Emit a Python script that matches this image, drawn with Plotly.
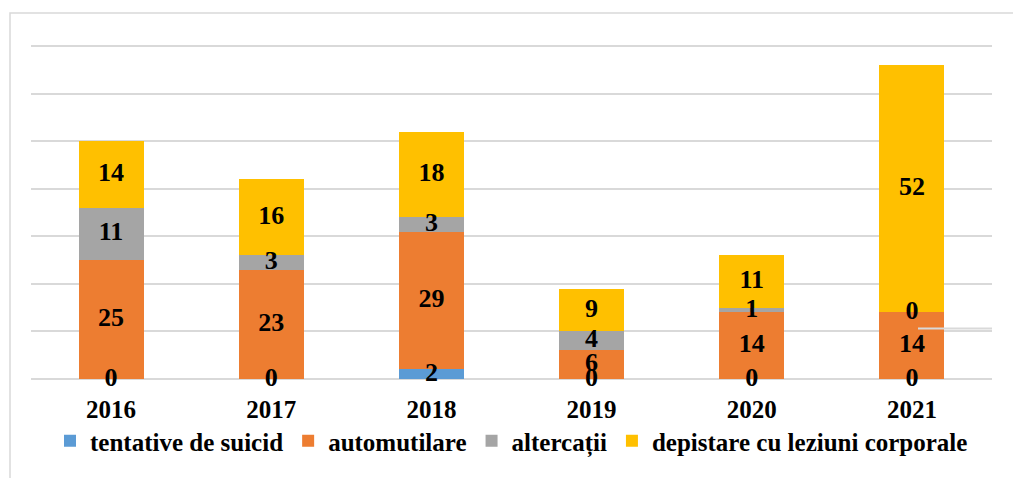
import plotly.graph_objects as go

years = ["2016", "2017", "2018", "2019", "2020", "2021"]
series_names = ["tentative de suicid", "automutilare", "altercații", "depistare cu leziuni corporale"]
tentative = [0, 0, 2, 0, 0, 0]
automutilare = [25, 23, 29, 6, 14, 14]
altercatii = [11, 3, 3, 4, 1, 0]
depistare = [14, 16, 18, 9, 11, 52]
colors = ["#5B9BD5", "#ED7D31", "#A5A5A5", "#FFC000"]

series = [tentative, automutilare, altercatii, depistare]

W, H = 1013, 478
BASE_Y, TOP_Y = 379, 46          # pixel rows of value 0 and value 70
YMAX_GRID = 70
ML, MR, MT, MB = 31, 21, 41, H - BASE_Y
PW, PH = W - ML - MR, H - MT - MB
Y_TOP = PH / ((BASE_Y - TOP_Y) / YMAX_GRID)

def px(x):
    return (x - ML) / PW

def py(y):
    return (H - MB - y) / PH

FONT = "Liberation Serif"

fig = go.Figure()
for name, vals, col in zip(series_names, series, colors):
    fig.add_trace(go.Bar(x=years, y=vals, name=name, marker=dict(color=col, line=dict(width=0)),
                         hoverinfo="x+y+name"))

# data labels, centred in each stacked segment
base = [0] * len(years)
for vals in series:
    mids = [b + v / 2 for b, v in zip(base, vals)]
    fig.add_trace(go.Scatter(x=years, y=mids, mode="text", text=[str(v) for v in vals],
                             textposition="middle center", showlegend=False, hoverinfo="skip",
                             textfont=dict(family=FONT, size=26, color="black", weight="bold"),
                             cliponaxis=False))
    base = [b + v for b, v in zip(base, vals)]

fig.update_layout(
    width=W, height=H,
    margin=dict(l=ML, r=MR, t=MT, b=MB, pad=0, autoexpand=False),
    barmode="stack", bargap=0.594,
    plot_bgcolor="white", paper_bgcolor="white",
    font=dict(family=FONT, color="black"),
    showlegend=True,
    legend=dict(orientation="h", traceorder="normal", x=px(50), xanchor="left", y=py(464), yanchor="bottom",
                font=dict(family=FONT, size=25, color="black", weight="bold"),
                itemwidth=30, tracegroupgap=0, bgcolor="rgba(0,0,0,0)"),
    xaxis=dict(showgrid=False, showline=False, ticks="", zeroline=False, ticklabelstandoff=13,
               tickfont=dict(family=FONT, size=25, color="black", weight="bold")),
    yaxis=dict(range=[0, Y_TOP], tick0=0, dtick=10, showticklabels=False, showgrid=True,
               gridcolor="#D9D9D9", gridwidth=1.5, zeroline=True, zerolinecolor="#D9D9D9",
               zerolinewidth=1.5, showline=False, ticks=""),
    shapes=[
        dict(type="rect", xref="paper", yref="paper", x0=px(10), x1=px(1020), y0=py(13), y1=py(490),
             line=dict(color="#D9D9D9", width=1.5), fillcolor="rgba(0,0,0,0)", layer="below"),
        dict(type="line", xref="paper", yref="paper", x0=px(918), x1=px(992), y0=py(328.5), y1=py(328.5),
             line=dict(color="#D9D9D9", width=2), layer="above"),
    ],
)

fig.write_html("out.html", config={"displayModeBar": False},
               post_script="document.body.style.margin='0';document.body.style.padding='0';")
